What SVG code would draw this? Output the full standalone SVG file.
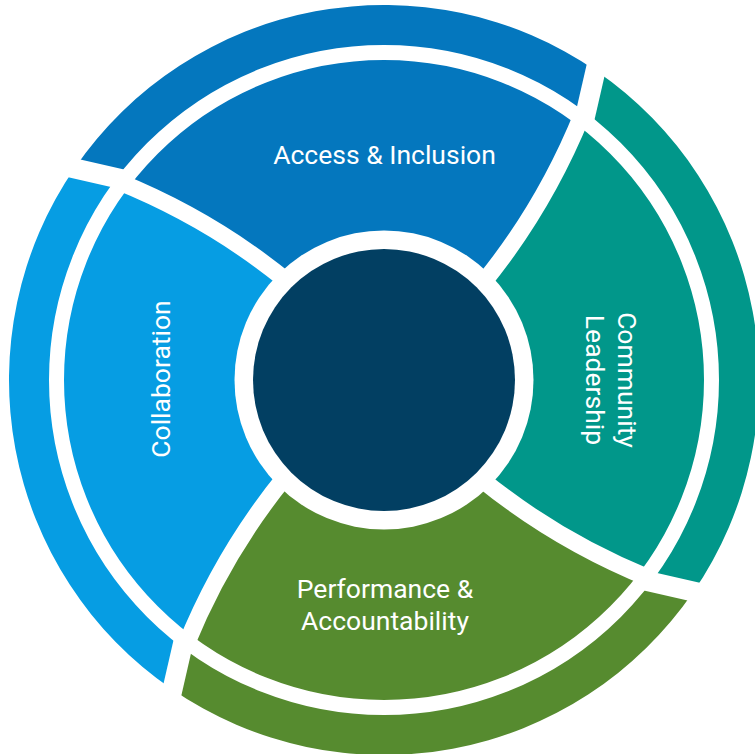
<svg xmlns="http://www.w3.org/2000/svg" width="755" height="754" viewBox="0 0 755 754">
  <style>
    .label { font-family: Roboto, "Liberation Sans", sans-serif; font-size: 26.5px; fill: #ffffff; }
    .cut { fill: none; stroke: #ffffff; stroke-linecap: butt; }
  </style>
  <defs>
    <!-- one quarter of the wheel, drawn around the origin between 0deg and 90deg -->
    <path id="petal" d="M0,0 L140,1.11 Q236.63,-8.87 328.54,-47.81 L368.65,-68.73 A375,375 0 0 1 68.73,368.65 L47.81,328.54 Q8.87,236.63 -1.11,140 Z"/>
    <!-- curved white cut between two quarters: inner ring part and outer ring part -->
    <g id="sep">
      <path class="cut" stroke-width="17" d="M140,1.11 Q236.63,-8.87 328.54,-47.81"/>
      <path class="cut" stroke-width="20" d="M323.41,-41.02 L377.62,-75.05"/>
    </g>
  </defs>

  <rect width="755" height="754" fill="#ffffff"/>

  <g id="access-inclusion">
    <use href="#petal" transform="translate(384 380) rotate(225)" fill="#0477BE"/>
    <text class="label" x="384.5" y="164" text-anchor="middle">Access &amp; Inclusion</text>
  </g>

  <g id="community-leadership">
    <use href="#petal" transform="translate(384 380) rotate(315)" fill="#01978A"/>
    <text class="label" transform="translate(617.5 380) rotate(90)" text-anchor="middle"><tspan x="0" y="0">Community</tspan><tspan x="0" y="32">Leadership</tspan></text>
  </g>

  <g id="performance-accountability">
    <use href="#petal" transform="translate(384 380) rotate(45)" fill="#568B2F"/>
    <text class="label" text-anchor="middle"><tspan x="385" y="598">Performance &amp;</tspan><tspan x="385" y="630">Accountability</tspan></text>
  </g>

  <g id="collaboration">
    <use href="#petal" transform="translate(384 380) rotate(135)" fill="#069DE3"/>
    <text class="label" transform="translate(169.5 379) rotate(-90)" text-anchor="middle">Collaboration</text>
  </g>

  <g id="separators">
    <circle class="cut" cx="384" cy="380" r="327.5" stroke-width="15"/>
    <use href="#sep" transform="translate(384 380) rotate(45)"/>
    <use href="#sep" transform="translate(384 380) rotate(135)"/>
    <use href="#sep" transform="translate(384 380) rotate(225)"/>
    <use href="#sep" transform="translate(384 380) rotate(315)"/>
  </g>

  <g id="hub">
    <circle cx="384" cy="380" r="149.5" fill="#ffffff"/>
    <circle cx="384" cy="380" r="131" fill="#023F62"/>
  </g>
</svg>
